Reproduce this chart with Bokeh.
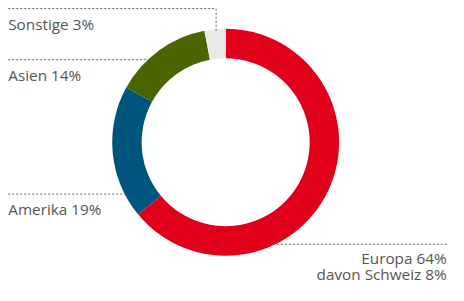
import numpy as np
from bokeh.plotting import figure
from bokeh.models import Range1d, ColumnDataSource
from bokeh.core.properties import value
from bokeh.embed import file_html
from bokeh.resources import INLINE

# Data
regions = ["Europa", "Amerika", "Asien", "Sonstige"]
shares = [64, 19, 14, 3]
colors = ["#e1001a", "#00557f", "#4a6500", "#e8e8e8"]
labels = ["Europa 64%\ndavon Schweiz 8%", "Amerika 19%", "Asien 14%", "Sonstige 3%"]

W, H = 448, 285
REF_W, REF_H = 464, 301


def py(y):
    # layout y measured from the top
    return REF_H - y


p = figure(width=W, height=H, output_backend="svg", toolbar_location=None,
           x_range=Range1d(0, REF_W), y_range=Range1d(0, REF_H),
           min_border=0)
p.axis.visible = False
p.grid.visible = False
p.outline_line_color = None
p.background_fill_color = "white"
p.border_fill_color = "white"

cx, cy = 233.2, py(149.7)
R_out, R_in = 117.5, 87.0

frac = np.array(shares, dtype=float) / sum(shares)
cum = np.concatenate([[0], np.cumsum(frac)])
# clockwise from top
start = np.pi / 2 - cum[1:] * 2 * np.pi
end = np.pi / 2 - cum[:-1] * 2 * np.pi

src = ColumnDataSource(dict(start=start, end=end, color=colors))
p.annular_wedge(x=cx, y=cy, inner_radius=R_in, outer_radius=R_out,
                start_angle="start", end_angle="end", fill_color="color",
                line_color=None, source=src)

lc = "#666666"
dash = "2 2"
# leader lines
p.line([8, 223.3, 223.3], [py(8.5), py(8.5), py(32.5)], line_color=lc, line_dash=dash, line_width=1)
p.line([8, 151], [py(62.5), py(62.5)], line_color=lc, line_dash=dash, line_width=1)
p.line([8, 129], [py(204.5), py(204.5)], line_color=lc, line_dash=dash, line_width=1)
p.line([282, 462], [py(257.5), py(257.5)], line_color=lc, line_dash=dash, line_width=1)

tc = "#555555"
fs = "15.3px"
font = value("Open Sans")
p.text(x=[8], y=[py(25)], text=[labels[3]], text_font=font, text_font_size=fs,
       text_color=tc, text_baseline="alphabetic", text_align="left")
p.text(x=[8], y=[py(79)], text=[labels[2]], text_font=font, text_font_size=fs,
       text_color=tc, text_baseline="alphabetic", text_align="left")
p.text(x=[8], y=[py(220)], text=[labels[1]], text_font=font, text_font_size=fs,
       text_color=tc, text_baseline="alphabetic", text_align="left")
eu_lines = labels[0].split("\n")
p.text(x=[462, 462], y=[py(272), py(289)], text=eu_lines, text_font=font, text_font_size=fs,
       text_color=tc, text_baseline="alphabetic", text_align="right")

open("out.html", "w").write(file_html(p, INLINE))
